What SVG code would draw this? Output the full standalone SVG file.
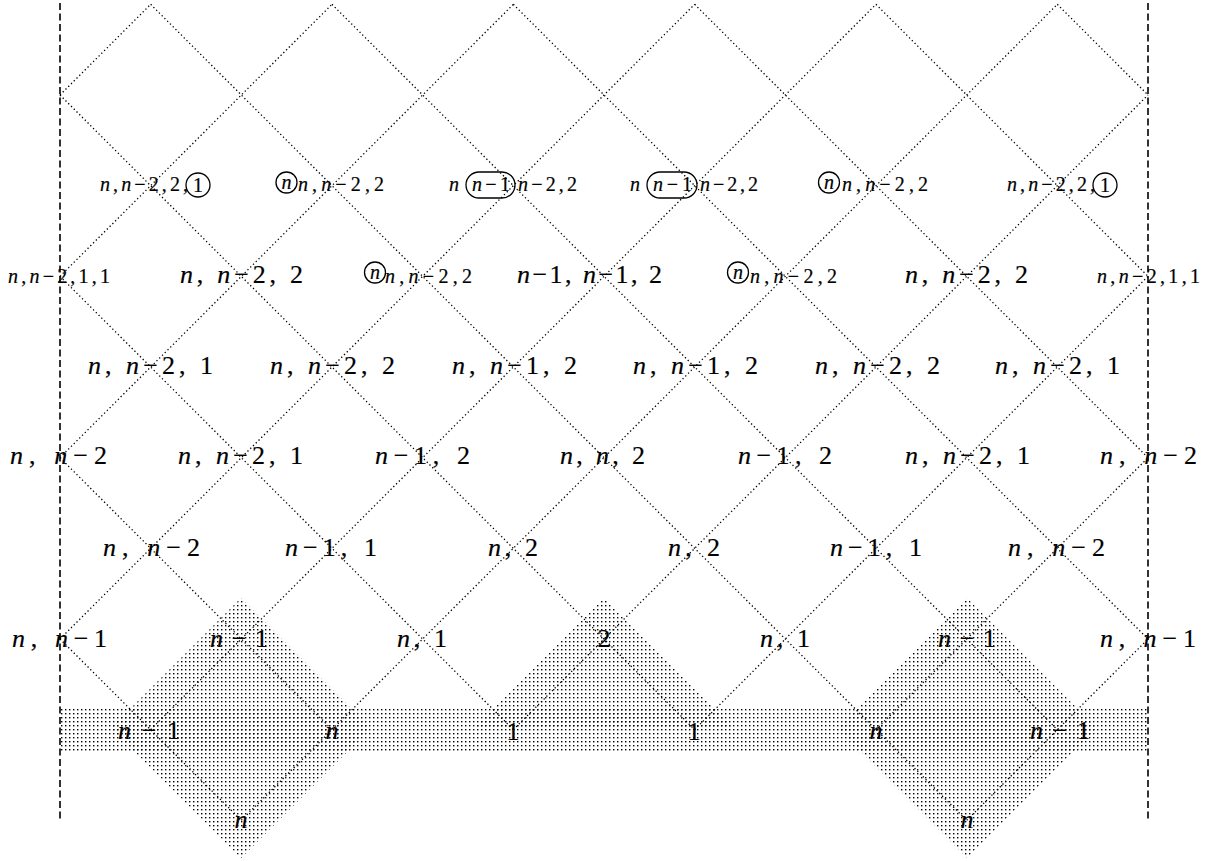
<svg xmlns="http://www.w3.org/2000/svg" width="1207" height="861" viewBox="0 0 1207 861">
<style>
text{font-family:"Liberation Serif","Times New Roman",serif;fill:#000;stroke:#000;stroke-width:0.2}
.b{font-size:26px}
.s{font-size:20px}
.i{font-style:italic}
.grid line{stroke:#000;stroke-width:1.3;stroke-dasharray:1.3 2.6;fill:none}
.wall{stroke:#000;stroke-width:1.6;stroke-dasharray:7 3.5}
.ring{fill:none;stroke:#000;stroke-width:1.3}
</style>
<defs>
<pattern id="dots" width="4" height="4" patternUnits="userSpaceOnUse">
<rect x="1" y="1" width="1.4" height="1.4" fill="#000"/>
</pattern>
</defs>
<rect width="1207" height="861" fill="#fff"/>
<g id="shading" fill="url(#dots)">
<rect x="60" y="707" width="1088" height="46"/>
<polygon points="241,598 371,728 241,858 111,728"/>
<polygon points="967,598 1097,728 967,858 837,728"/>
<polygon points="604,598 734,728 474,728"/>
</g>
<g id="connectors" class="grid">
<line x1="60" y1="457.67" x2="332" y2="729.67"/>
<line x1="60" y1="639" x2="241.33" y2="820.33"/>
<line x1="60" y1="276.33" x2="513.33" y2="729.67"/>
<line x1="60" y1="95" x2="694.67" y2="729.67"/>
<line x1="150.67" y1="4.33" x2="966.67" y2="820.33"/>
<line x1="332" y1="4.33" x2="1057.33" y2="729.67"/>
<line x1="513.33" y1="4.33" x2="1148" y2="639"/>
<line x1="694.67" y1="4.33" x2="1148" y2="457.67"/>
<line x1="876" y1="4.33" x2="1148" y2="276.33"/>
<line x1="1057.33" y1="4.33" x2="1148" y2="95"/>
<line x1="60" y1="95" x2="150.67" y2="4.33"/>
<line x1="60" y1="276.33" x2="332" y2="4.33"/>
<line x1="60" y1="457.67" x2="513.33" y2="4.33"/>
<line x1="60" y1="639" x2="694.67" y2="4.33"/>
<line x1="150.67" y1="729.67" x2="876" y2="4.33"/>
<line x1="241.33" y1="820.33" x2="1057.33" y2="4.33"/>
<line x1="513.33" y1="729.67" x2="1148" y2="95"/>
<line x1="694.67" y1="729.67" x2="1148" y2="276.33"/>
<line x1="876" y1="729.67" x2="1148" y2="457.67"/>
<line x1="966.67" y1="820.33" x2="1148" y2="639"/>
</g>
<g id="walls">
<line class="wall" x1="60" y1="3" x2="60" y2="821"/>
<line class="wall" x1="1148" y1="3" x2="1148" y2="821"/>
</g>
<g id="labels">
<g id="r1c1"><text class="s" x="100" y="191" textLength="88"><tspan class="i">n</tspan>,<tspan class="i">n</tspan>−2,2,</text><circle class="ring" cx="198" cy="185" r="12"/><text class="s" x="198" y="192" text-anchor="middle">1</text></g>
<g id="r1c2"><circle class="ring" cx="286.5" cy="182.5" r="10.5"/><text class="s i" x="286.5" y="188.5" text-anchor="middle">n</text><text class="s" x="298" y="191" textLength="86"><tspan class="i">n</tspan>,<tspan class="i">n</tspan>−2,2</text></g>
<g id="r1c3"><text class="s i" x="449" y="191">n</text><rect class="ring" x="466" y="172" width="49" height="26" rx="13"/><text class="s" x="472" y="191" textLength="38"><tspan class="i">n</tspan>−1</text><text class="s" x="518" y="191" textLength="59"><tspan class="i">n</tspan>−2,2</text></g>
<g id="r1c4"><text class="s i" x="630" y="191">n</text><rect class="ring" x="647" y="172" width="50" height="26" rx="13"/><text class="s" x="653" y="191" textLength="39"><tspan class="i">n</tspan>−1</text><text class="s" x="700" y="191" textLength="58"><tspan class="i">n</tspan>−2,2</text></g>
<g id="r1c5"><circle class="ring" cx="829" cy="182.5" r="10.5"/><text class="s i" x="829" y="188.5" text-anchor="middle">n</text><text class="s" x="842" y="191" textLength="86"><tspan class="i">n</tspan>,<tspan class="i">n</tspan>−2,2</text></g>
<g id="r1c6"><text class="s" x="1007" y="191" textLength="88"><tspan class="i">n</tspan>,<tspan class="i">n</tspan>−2,2,</text><circle class="ring" cx="1105" cy="185" r="12"/><text class="s" x="1105" y="192" text-anchor="middle">1</text></g>
<g id="r2c1"><text class="s" x="8" y="283" textLength="102"><tspan class="i">n</tspan>,<tspan class="i">n</tspan>−2,1,1</text></g>
<g id="r2c2"><text class="b" x="180" y="283" textLength="123"><tspan class="i">n</tspan>, <tspan class="i">n</tspan>−2, 2</text></g>
<g id="r2c3"><circle class="ring" cx="375" cy="272.5" r="10.5"/><text class="s i" x="375" y="278.5" text-anchor="middle">n</text><text class="s" x="385" y="283" textLength="87"><tspan class="i">n</tspan>,<tspan class="i">n</tspan>−2,2</text></g>
<g id="r2c4"><text class="b" x="517" y="283" textLength="145"><tspan class="i">n</tspan>−1, <tspan class="i">n</tspan>−1, 2</text></g>
<g id="r2c5"><circle class="ring" cx="738" cy="272.5" r="10.5"/><text class="s i" x="738" y="278.5" text-anchor="middle">n</text><text class="s" x="750" y="283" textLength="87"><tspan class="i">n</tspan>,<tspan class="i">n</tspan>−2,2</text></g>
<g id="r2c6"><text class="b" x="905" y="283" textLength="123"><tspan class="i">n</tspan>, <tspan class="i">n</tspan>−2, 2</text></g>
<g id="r2c7"><text class="s" x="1097" y="283" textLength="103"><tspan class="i">n</tspan>,<tspan class="i">n</tspan>−2,1,1</text></g>
<g id="r3c1"><text class="b" x="88" y="374" textLength="125"><tspan class="i">n</tspan>, <tspan class="i">n</tspan>−2, 1</text></g>
<g id="r3c2"><text class="b" x="270" y="374" textLength="125"><tspan class="i">n</tspan>, <tspan class="i">n</tspan>−2, 2</text></g>
<g id="r3c3"><text class="b" x="452" y="374" textLength="125"><tspan class="i">n</tspan>, <tspan class="i">n</tspan>−1, 2</text></g>
<g id="r3c4"><text class="b" x="633" y="374" textLength="125"><tspan class="i">n</tspan>, <tspan class="i">n</tspan>−1, 2</text></g>
<g id="r3c5"><text class="b" x="815" y="374" textLength="125"><tspan class="i">n</tspan>, <tspan class="i">n</tspan>−2, 2</text></g>
<g id="r3c6"><text class="b" x="995" y="374" textLength="125"><tspan class="i">n</tspan>, <tspan class="i">n</tspan>−2, 1</text></g>
<g id="r4c1"><text class="b" x="10" y="464" textLength="97"><tspan class="i">n</tspan>, <tspan class="i">n</tspan>−2</text></g>
<g id="r4c2"><text class="b" x="178" y="464" textLength="125"><tspan class="i">n</tspan>, <tspan class="i">n</tspan>−2, 1</text></g>
<g id="r4c3"><text class="b" x="375" y="464" textLength="95"><tspan class="i">n</tspan>−1, 2</text></g>
<g id="r4c4"><text class="b" x="560" y="464" textLength="85"><tspan class="i">n</tspan>, <tspan class="i">n</tspan>, 2</text></g>
<g id="r4c5"><text class="b" x="738" y="464" textLength="94"><tspan class="i">n</tspan>−1, 2</text></g>
<g id="r4c6"><text class="b" x="905" y="464" textLength="125"><tspan class="i">n</tspan>, <tspan class="i">n</tspan>−2, 1</text></g>
<g id="r4c7"><text class="b" x="1100" y="464" textLength="97"><tspan class="i">n</tspan>, <tspan class="i">n</tspan>−2</text></g>
<g id="r5c1"><text class="b" x="103" y="556" textLength="97"><tspan class="i">n</tspan>, <tspan class="i">n</tspan>−2</text></g>
<g id="r5c2"><text class="b" x="285" y="556" textLength="92"><tspan class="i">n</tspan>−1, 1</text></g>
<g id="r5c3"><text class="b" x="488" y="556" textLength="50"><tspan class="i">n</tspan>, 2</text></g>
<g id="r5c4"><text class="b" x="668" y="556" textLength="52"><tspan class="i">n</tspan>, 2</text></g>
<g id="r5c5"><text class="b" x="830" y="556" textLength="92"><tspan class="i">n</tspan>−1, 1</text></g>
<g id="r5c6"><text class="b" x="1008" y="556" textLength="97"><tspan class="i">n</tspan>, <tspan class="i">n</tspan>−2</text></g>
<g id="r6c1"><text class="b" x="12" y="647" textLength="95"><tspan class="i">n</tspan>, <tspan class="i">n</tspan>−1</text></g>
<g id="r6c2"><text class="b" x="210" y="647" textLength="58"><tspan class="i">n</tspan>−1</text></g>
<g id="r6c3"><text class="b" x="397" y="647" textLength="50"><tspan class="i">n</tspan>, 1</text></g>
<g id="r6c4"><text class="b" x="604" y="647" text-anchor="middle">2</text></g>
<g id="r6c5"><text class="b" x="760" y="647" textLength="50"><tspan class="i">n</tspan>, 1</text></g>
<g id="r6c6"><text class="b" x="938" y="647" textLength="58"><tspan class="i">n</tspan>−1</text></g>
<g id="r6c7"><text class="b" x="1100" y="647" textLength="96"><tspan class="i">n</tspan>, <tspan class="i">n</tspan>−1</text></g>
<g id="r7c1"><text class="b" x="118" y="739" textLength="62"><tspan class="i">n</tspan>−1</text></g>
<g id="r7c2"><text class="b i" x="332" y="739" text-anchor="middle">n</text></g>
<g id="r7c3"><text class="b" x="513" y="740" text-anchor="middle">1</text></g>
<g id="r7c4"><text class="b" x="694" y="740" text-anchor="middle">1</text></g>
<g id="r7c5"><text class="b i" x="876" y="739" text-anchor="middle">n</text></g>
<g id="r7c6"><text class="b" x="1030" y="739" textLength="60"><tspan class="i">n</tspan>−1</text></g>
<g id="r8c1"><text class="b i" x="241" y="828" text-anchor="middle">n</text></g>
<g id="r8c2"><text class="b i" x="967" y="828" text-anchor="middle">n</text></g>
</g>
</svg>
